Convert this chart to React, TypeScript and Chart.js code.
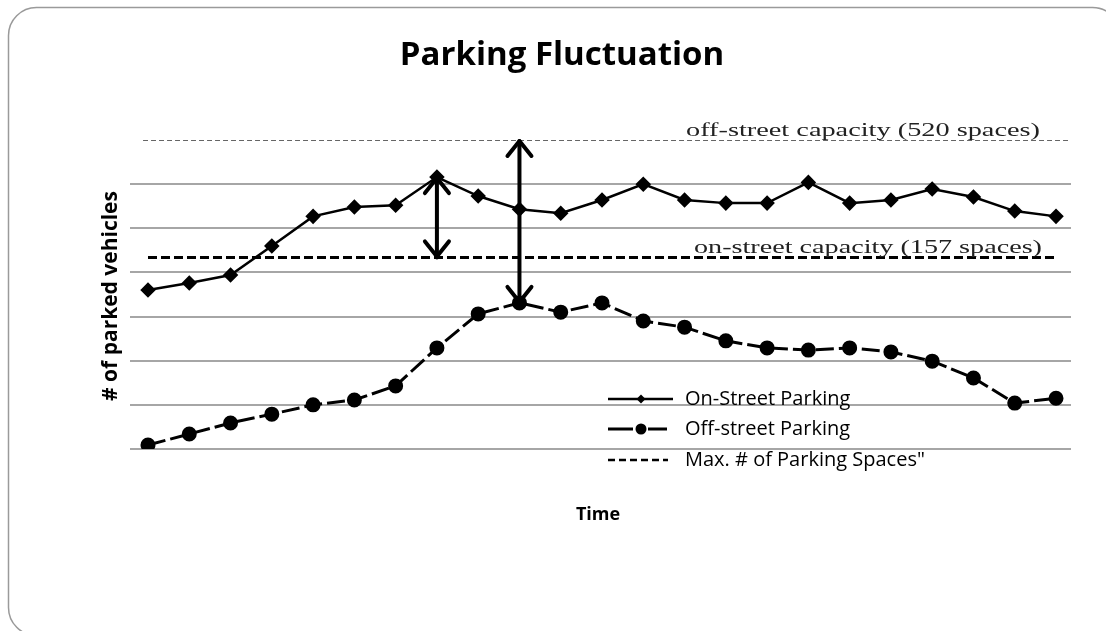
import React, { useEffect, useRef } from 'react';
import { Chart, registerables } from 'chart.js';

Chart.register(...registerables);

// Time slots (unlabelled in the source chart)
const timeSlots = ['1', '2', '3', '4', '5', '6', '7', '8', '9', '10', '11', '12', '13', '14', '15', '16', '17', '18', '19', '20', '21', '22', '23'];

// Series values (arbitrary units)
const onStreetParking = [360, 376, 394, 460, 527, 548, 552, 616, 573, 543, 534, 564, 600, 564, 557, 557, 604, 557, 564, 589, 571, 539, 527];
const offStreetParking = [9, 34, 59, 79, 100, 111, 143, 229, 306, 331, 310, 331, 290, 276, 245, 229, 224, 229, 220, 199, 161, 104, 115];

// Capacity reference lines
const offStreetCapacity = 700;
const onStreetCapacity = 434;
const offStreetCapacityLabel = 'off-street capacity (520 spaces)';
const onStreetCapacityLabel = 'on-street capacity (157 spaces)';

// Arrow anchors (category index)
const arrowOnStreetIndex = 7;
const arrowOffStreetIndex = 9;

const yMin = 0;
const yMax = 700;
const yStep = 100;

const chartTitle = 'Parking Fluctuation';
const xTitle = 'Time';
const yTitle = '# of parked vehicles';
const legendLabels = ['On-Street Parking', 'Off-street Parking', 'Max. # of Parking Spaces"'];

const SANS = '"Open Sans", Lato, sans-serif';
const SERIF = '"Liberation Serif", "DejaVu Serif", serif';

function drawArrowHead(ctx: CanvasRenderingContext2D, x: number, y: number, dir: number) {
  // dir = -1 pointing up, +1 pointing down
  ctx.beginPath();
  ctx.moveTo(x - 12, y - dir * 15);
  ctx.lineTo(x, y);
  ctx.lineTo(x + 12, y - dir * 15);
  ctx.stroke();
}

function fitText(ctx: CanvasRenderingContext2D, text: string, x: number, y: number, width: number) {
  const w = ctx.measureText(text).width;
  ctx.save();
  ctx.translate(x, y);
  ctx.scale(width / w, 1);
  ctx.fillText(text, 0, 0);
  ctx.restore();
}

const decorPlugin = {
  id: 'decor',
  beforeDraw(chart: any) {
    const ctx: CanvasRenderingContext2D = chart.ctx;
    ctx.save();
    ctx.fillStyle = '#ffffff';
    ctx.fillRect(0, 0, chart.width, chart.height);
    // rounded frame
    const x = 8.5, y = 7.5, w = 1112, h = 628, r = 28;
    ctx.beginPath();
    ctx.moveTo(x + r, y);
    ctx.lineTo(x + w - r, y);
    ctx.arcTo(x + w, y, x + w, y + r, r);
    ctx.lineTo(x + w, y + h - r);
    ctx.arcTo(x + w, y + h, x + w - r, y + h, r);
    ctx.lineTo(x + r, y + h);
    ctx.arcTo(x, y + h, x, y + h - r, r);
    ctx.lineTo(x, y + r);
    ctx.arcTo(x, y, x + r, y, r);
    ctx.closePath();
    ctx.strokeStyle = '#9a9a9a';
    ctx.lineWidth = 1.5;
    ctx.stroke();
    ctx.restore();
  },
  afterDatasetsDraw(chart: any) {
    const ctx: CanvasRenderingContext2D = chart.ctx;
    const xs = chart.scales.x;
    const ys = chart.scales.y;
    ctx.save();
    ctx.strokeStyle = '#000';
    ctx.lineWidth = 4;
    ctx.lineCap = 'round';
    ctx.lineJoin = 'round';
    // arrow 1: on-street peak to on-street capacity
    const ax1 = xs.getPixelForValue(arrowOnStreetIndex);
    const a1top = ys.getPixelForValue(onStreetParking[arrowOnStreetIndex]);
    const a1bot = ys.getPixelForValue(onStreetCapacity);
    ctx.beginPath();
    ctx.moveTo(ax1, a1top);
    ctx.lineTo(ax1, a1bot);
    ctx.stroke();
    drawArrowHead(ctx, ax1, a1top + 1, -1);
    drawArrowHead(ctx, ax1, a1bot - 1, 1);
    // arrow 2: off-street capacity to off-street peak
    const ax2 = xs.getPixelForValue(arrowOffStreetIndex);
    const a2top = ys.getPixelForValue(offStreetCapacity);
    const a2bot = ys.getPixelForValue(offStreetParking[arrowOffStreetIndex]);
    ctx.beginPath();
    ctx.moveTo(ax2, a2top + 1);
    ctx.lineTo(ax2, a2bot - 1);
    ctx.stroke();
    drawArrowHead(ctx, ax2, a2top + 1, -1);
    drawArrowHead(ctx, ax2, a2bot - 1, 1);
    ctx.restore();
  },
  afterDraw(chart: any) {
    const ctx: CanvasRenderingContext2D = chart.ctx;
    const ys = chart.scales.y;
    ctx.save();
    ctx.fillStyle = '#000';
    // title
    ctx.font = `bold 33px ${SANS}`;
    ctx.textAlign = 'center';
    ctx.textBaseline = 'middle';
    ctx.fillText(chartTitle, 562, 56);
    // x title
    ctx.font = `bold 18px ${SANS}`;
    ctx.fillText(xTitle, 598, 515);
    // y title
    ctx.save();
    ctx.translate(111, 296);
    ctx.rotate(-Math.PI / 2);
    ctx.font = `bold 21px ${SANS}`;
    ctx.fillText(yTitle, 0, 0);
    ctx.restore();

    // capacity labels
    ctx.textAlign = 'left';
    ctx.textBaseline = 'alphabetic';
    ctx.font = `18px ${SERIF}`;
    ctx.fillStyle = '#222';
    fitText(ctx, offStreetCapacityLabel, 686, ys.getPixelForValue(offStreetCapacity) - 4, 354);
    fitText(ctx, onStreetCapacityLabel, 694, ys.getPixelForValue(onStreetCapacity) - 4, 348);

    // legend
    const lx = 608;
    const rows = [399, 429, 460];
    ctx.strokeStyle = '#000';
    ctx.fillStyle = '#000';
    // row 1
    ctx.lineWidth = 2.5;
    ctx.beginPath();
    ctx.moveTo(lx, rows[0]);
    ctx.lineTo(lx + 65, rows[0]);
    ctx.stroke();
    ctx.beginPath();
    ctx.moveTo(lx + 33, rows[0] - 4.5);
    ctx.lineTo(lx + 37.5, rows[0]);
    ctx.lineTo(lx + 33, rows[0] + 4.5);
    ctx.lineTo(lx + 28.5, rows[0]);
    ctx.closePath();
    ctx.fill();
    // row 2
    ctx.lineWidth = 3;
    ctx.beginPath();
    ctx.moveTo(lx, rows[1]);
    ctx.lineTo(lx + 25, rows[1]);
    ctx.moveTo(lx + 40, rows[1]);
    ctx.lineTo(lx + 59, rows[1]);
    ctx.stroke();
    ctx.beginPath();
    ctx.arc(lx + 33, rows[1], 5.5, 0, Math.PI * 2);
    ctx.fill();
    // row 3
    ctx.lineWidth = 2.5;
    ctx.setLineDash([7, 4]);
    ctx.beginPath();
    ctx.moveTo(lx, rows[2]);
    ctx.lineTo(lx + 60, rows[2]);
    ctx.stroke();
    ctx.setLineDash([]);
    // legend text
    ctx.font = `20px ${SANS}`;
    ctx.textBaseline = 'middle';
    legendLabels.forEach((t, i) => ctx.fillText(t, lx + 77, rows[i]));
    ctx.restore();
  },
};

export default function App() {
  const canvasRef = useRef<HTMLCanvasElement | null>(null);

  useEffect(() => {
    if (!canvasRef.current) return;
    const idx = timeSlots.map((_, i) => i);
    const lastIdx = idx[idx.length - 1];
    const chart = new Chart(canvasRef.current, {
      type: 'line',
      data: {
        datasets: [
          {
            label: legendLabels[0],
            data: onStreetParking.map((v, i) => ({ x: idx[i], y: v })),
            borderColor: '#000',
            backgroundColor: '#000',
            borderWidth: 2.5,
            pointStyle: 'rectRot',
            pointRadius: 6,
            tension: 0,
          },
          {
            label: legendLabels[1],
            data: offStreetParking.map((v, i) => ({ x: idx[i], y: v })),
            borderColor: '#000',
            backgroundColor: '#000',
            borderWidth: 3,
            borderDash: [18, 5],
            pointStyle: 'circle',
            pointRadius: 6,
            tension: 0,
          },
          {
            label: legendLabels[2],
            data: [
              { x: -0.12, y: offStreetCapacity },
              { x: 22.4, y: offStreetCapacity },
            ],
            borderColor: '#333',
            borderWidth: 1.5,
            borderDash: [5, 3],
            pointRadius: 0,
          },
          {
            label: legendLabels[2],
            data: [
              { x: idx[0], y: onStreetCapacity },
              { x: lastIdx, y: onStreetCapacity },
            ],
            borderColor: '#000',
            borderWidth: 3,
            borderDash: [9, 4],
            pointRadius: 0,
          },
        ],
      },
      options: {
        responsive: false,
        animation: false,
        devicePixelRatio: 1,
        layout: { padding: { left: 130, right: 35, top: 140, bottom: 182 } },
        plugins: {
          legend: { display: false },
          tooltip: { enabled: false },
          title: { display: false },
        },
        scales: {
          x: {
            type: 'linear',
            display: false,
            min: -0.436,
            max: 22.363,
          },
          y: {
            min: yMin,
            max: yMax,
            ticks: { display: false, stepSize: yStep },
            border: { display: false },
            grid: {
              drawTicks: false,
              lineWidth: 2,
              color: (c: any) => (c.tick && c.tick.value === yMax ? 'rgba(0,0,0,0)' : '#a6a6a6'),
            },
          },
        },
      },
      plugins: [decorPlugin],
    });
    return () => chart.destroy();
  }, []);

  return (
    <div style={{ position: 'absolute', left: 0, top: 0, width: 1106, height: 631 }}>
      <canvas ref={canvasRef} width={1106} height={631} style={{ display: 'block' }} />
    </div>
  );
}
